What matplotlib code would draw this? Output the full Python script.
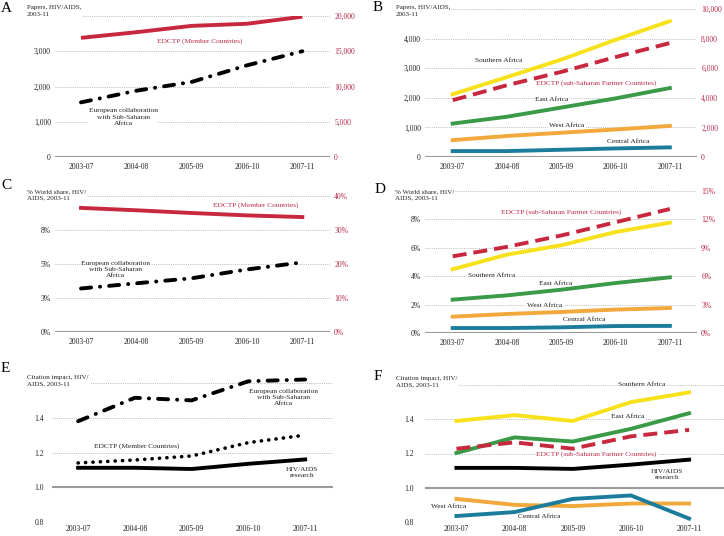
import matplotlib.pyplot as plt

plt.rcParams['font.family'] = ['Liberation Serif', 'DejaVu Serif']

periods = ['2003-07', '2004-08', '2005-09', '2006-10', '2007-11']

# A - papers, EDCTP members (right axis) and European collaboration (left axis)
a_edctp = [16900, 17700, 18600, 18900, 19900]
a_euro = [1550, 1880, 2130, 2600, 3000]
a_left_ticks = [0, 1000, 2000, 3000, 4000]
a_left_labels = ['0', '1,000', '2,000', '3,000', '']
a_right_ticks = [0, 5000, 10000, 15000, 20000]
a_right_labels = ['0', '5,000', '10,000', '15,000', '20,000']

# B - papers, sub-Saharan regions (left) and EDCTP partners (right)
b_southern = [2120, 2700, 3290, 3960, 4590]
b_edctp = [3840, 4850, 5750, 6750, 7700]
b_east = [1130, 1360, 1670, 1980, 2330]
b_west = [570, 710, 820, 930, 1050]
b_central = [200, 200, 245, 290, 325]
b_left_ticks = [0, 1000, 2000, 3000, 4000, 5000]
b_left_labels = ['0', '1,000', '2,000', '3,000', '4,000', '']
b_right_ticks = [0, 2000, 4000, 6000, 8000, 10000]
b_right_labels = ['0', '2,000', '4,000', '6,000', '8,000', '10,000']

# C - world share
c_edctp = [36.5, 35.8, 35.0, 34.3, 33.8]
c_euro = [3.2, 3.58, 3.95, 4.6, 5.12]
c_left_ticks = [0, 2.5, 5, 7.5, 10]
c_left_labels = ['0%', '3%', '5%', '8%', '']
c_right_ticks = [0, 10, 20, 30, 40]
c_right_labels = ['0%', '10%', '20%', '30%', '40%']

# D - world share, regions
d_edctp = [8.1, 9.1, 10.3, 11.7, 13.1]
d_southern = [4.49, 5.52, 6.18, 7.11, 7.77]
d_east = [2.35, 2.65, 3.05, 3.52, 3.92]
d_west = [1.15, 1.34, 1.48, 1.65, 1.76]
d_central = [0.35, 0.35, 0.4, 0.49, 0.5]
d_left_ticks = [0, 2, 4, 6, 8, 10]
d_left_labels = ['0%', '2%', '4%', '6%', '8%', '']
d_right_ticks = [0, 3, 6, 9, 12, 15]
d_right_labels = ['0%', '3%', '6%', '9%', '12%', '15%']

# E - citation impact
e_euro = [1.38, 1.515, 1.50, 1.61, 1.62]
e_edctp = [1.14, 1.157, 1.18, 1.257, 1.30]
e_hiv = [1.112, 1.112, 1.105, 1.135, 1.16]
ef_ticks = [0.8, 1.0, 1.2, 1.4, 1.6]
ef_labels = ['0.8', '1.0', '1.2', '1.4', '']

# F - citation impact, regions
f_southern = [1.39, 1.424, 1.39, 1.50, 1.557]
f_east = [1.203, 1.294, 1.27, 1.344, 1.435]
f_edctp = [1.228, 1.265, 1.228, 1.30, 1.338]
f_hiv = [1.116, 1.116, 1.11, 1.135, 1.164]
f_west = [0.935, 0.90, 0.893, 0.908, 0.908]
f_central = [0.835, 0.858, 0.935, 0.955, 0.82]

RED = '#C8283E'
RED_TXT = '#B8294A'
YELLOW = '#F7E11B'
GREEN = '#3A9A48'
ORANGE = '#F2A83B'
BLUE = '#1B7C9C'
GRID = '#BBBBBB'
BASE = '#9A9A9A'
TXT = '#222222'

W, H = 724, 536
fig = plt.figure(figsize=(W / 100, H / 100), dpi=100)

LW = 2.8
DASHDOT = (0, (2.6, 2.3, 0.05, 2.3))
DASHED = (0, (3.6, 1.8))
DOTTED = (0, (0.05, 2.0))


def px_axes(l, t, r, b):
    return fig.add_axes([l / W, 1 - b / H, (r - l) / W, (b - t) / H])


def setup(ax, xlim, ticks, labels, base, lpad=3, xpad=4):
    ax.set_xlim(*xlim)
    ax.set_ylim(ticks[0], ticks[-1])
    ax.set_xticks(range(len(periods)))
    ax.set_xticklabels(periods)
    ax.set_yticks(ticks)
    ax.set_yticklabels(labels)
    ax.tick_params(length=0, labelsize=5.5, colors=TXT, pad=lpad)
    ax.tick_params(axis='x', pad=xpad)
    for s in ax.spines.values():
        s.set_visible(False)
    ax.set_axisbelow(True)
    ax.grid(axis='y', color=GRID, linestyle=(0, (1, 1.2)), linewidth=0.7)
    ax.axhline(base, color=BASE, linewidth=1.5, zorder=1)


def right_axis(ax, ticks, labels):
    rx = ax.twinx()
    rx.set_ylim(ticks[0], ticks[-1])
    rx.set_yticks(ticks)
    rx.set_yticklabels(labels)
    rx.tick_params(length=0, labelsize=5.5, colors=RED_TXT, pad=3)
    for s in rx.spines.values():
        s.set_visible(False)
    return rx


def dashdot(ax, y):
    ax.plot(xs, y, color='black', lw=LW, linestyle=DASHDOT,
            dash_capstyle='round', zorder=3, clip_on=False)


def label(ax, x, y, s, color=TXT):
    ax.text(x, y, s, fontsize=5.3, color=color, ha='center', va='center',
            linespacing=1.3, zorder=2,
            bbox=dict(facecolor='white', edgecolor='none', pad=0.6))


def heading(x, y, s):
    fig.text(x / W, 1 - y / H, s, fontsize=5.0, color=TXT, ha='left', va='top',
             linespacing=1.4,
             bbox=dict(facecolor='white', edgecolor='none', pad=0.8))


def letter(x, y, s):
    fig.text(x / W, 1 - y / H, s, fontsize=11, color='black', ha='left', va='top')


xs = range(len(periods))

# ---- A ----
ax = px_axes(55, 16, 330, 157)
setup(ax, (-0.47, 4.5), a_left_ticks, a_left_labels, 0)
rx = right_axis(ax, a_right_ticks, a_right_labels)
rx.plot(xs, a_edctp, color=RED, lw=LW, solid_capstyle='butt', zorder=3)
dashdot(ax, a_euro)
label(rx, 2.15, 16500, 'EDCTP (Member Countries)', RED_TXT)
label(ax, 0.76, 1130, 'European collaboration\nwith Sub-Saharan\nAfrica')

# ---- B ----
ax = px_axes(425, 9, 697, 157)
setup(ax, (-0.51, 4.5), b_left_ticks, b_left_labels, 0)
rx = right_axis(ax, b_right_ticks, b_right_labels)
ax.plot(xs, b_southern, color=YELLOW, lw=LW, zorder=3)
ax.plot(xs, b_east, color=GREEN, lw=LW, zorder=3)
ax.plot(xs, b_west, color=ORANGE, lw=LW, zorder=3)
ax.plot(xs, b_central, color=BLUE, lw=LW, zorder=3)
rx.plot(xs, b_edctp, color=RED, lw=LW, linestyle=DASHED, zorder=3)
label(ax, 0.855, 3266, 'Southern Africa')
label(ax, 2.64, 2480, 'EDCTP (sub-Saharan Partner Countries)', RED_TXT)
label(ax, 1.83, 1940, 'East Africa')
label(ax, 2.09, 1077, 'West Africa')
label(ax, 3.24, 540, 'Central Africa')

# ---- C ----
ax = px_axes(55, 196, 330, 332)
setup(ax, (-0.47, 4.5), c_left_ticks, c_left_labels, 0)
rx = right_axis(ax, c_right_ticks, c_right_labels)
rx.plot(xs, c_edctp, color=RED, lw=LW, zorder=3)
dashdot(ax, c_euro)
label(rx, 3.15, 37.4, 'EDCTP (Member Countries)', RED_TXT)
label(ax, 0.62, 4.6, 'European collaboration\nwith Sub-Saharan\nAfrica')

# ---- D ----
ax = px_axes(425, 191, 697, 333)
setup(ax, (-0.51, 4.5), d_left_ticks, d_left_labels, 0)
rx = right_axis(ax, d_right_ticks, d_right_labels)
ax.plot(xs, d_southern, color=YELLOW, lw=LW, zorder=3)
ax.plot(xs, d_east, color=GREEN, lw=LW, zorder=3)
ax.plot(xs, d_west, color=ORANGE, lw=LW, zorder=3)
ax.plot(xs, d_central, color=BLUE, lw=LW, zorder=3)
rx.plot(xs, d_edctp, color=RED, lw=LW, linestyle=DASHED, zorder=3)
label(ax, 2.0, 8.48, 'EDCTP (sub-Saharan Partner Countries)', RED_TXT)
label(ax, 0.72, 4.06, 'Southern Africa')
label(ax, 1.9, 3.52, 'East Africa')
label(ax, 1.69, 1.95, 'West Africa')
label(ax, 2.43, 0.96, 'Central Africa')

# ---- E ----
ax = px_axes(52, 383, 333, 522)
setup(ax, (-0.46, 4.49), ef_ticks, ef_labels, 1.0, lpad=6, xpad=2)
dashdot(ax, e_euro)
ax.plot(xs, e_edctp, color='black', lw=2.6, linestyle=DOTTED,
        dash_capstyle='round', zorder=3)
ax.plot(xs, e_hiv, color='black', lw=LW, zorder=3)
label(ax, 3.62, 1.515, 'European collaboration\nwith Sub-Saharan\nAfrica')
label(ax, 1.03, 1.235, 'EDCTP (Member Countries)')
label(ax, 3.94, 1.085, 'HIV/AIDS\nresearch')

# ---- F ----
ax = px_axes(425, 385, 724, 522)
setup(ax, (-0.54, 4.6), ef_ticks, ef_labels, 1.0, lpad=8, xpad=2)
ax.plot(xs, f_southern, color=YELLOW, lw=LW, zorder=3)
ax.plot(xs, f_east, color=GREEN, lw=LW, zorder=3)
ax.plot(xs, f_edctp, color=RED, lw=LW, linestyle=DASHED, zorder=3)
ax.plot(xs, f_hiv, color='black', lw=LW, zorder=3)
ax.plot(xs, f_west, color=ORANGE, lw=LW, zorder=3)
ax.plot(xs, f_central, color=BLUE, lw=LW, zorder=3)
label(ax, 3.18, 1.605, 'Southern Africa')
label(ax, 2.95, 1.416, 'East Africa')
label(ax, 2.41, 1.197, 'EDCTP (sub-Saharan Partner Countries)', RED_TXT)
label(ax, 3.62, 1.077, 'HIV/AIDS\nresearch')
label(ax, -0.14, 0.889, 'West Africa')
label(ax, 1.42, 0.831, 'Central Africa')

# headings and panel letters
heading(27, 5, 'Papers, HIV/AIDS,\n2003-11')
heading(396, 5, 'Papers, HIV/AIDS,\n2003-11')
heading(27, 189, '% World share, HIV/\nAIDS, 2003-11')
heading(395, 189, '% World share, HIV/\nAIDS, 2003-11')
heading(27, 375, 'Citation impact, HIV/\nAIDS, 2003-11')
heading(396, 376, 'Citation impact, HIV/\nAIDS, 2003-11')

letter(1, 2, 'A')
letter(373, 1, 'B')
letter(1, 179, 'C')
letter(375, 183, 'D')
letter(1, 362, 'E')
letter(374, 370, 'F')

fig.savefig('out.png', dpi=100)
